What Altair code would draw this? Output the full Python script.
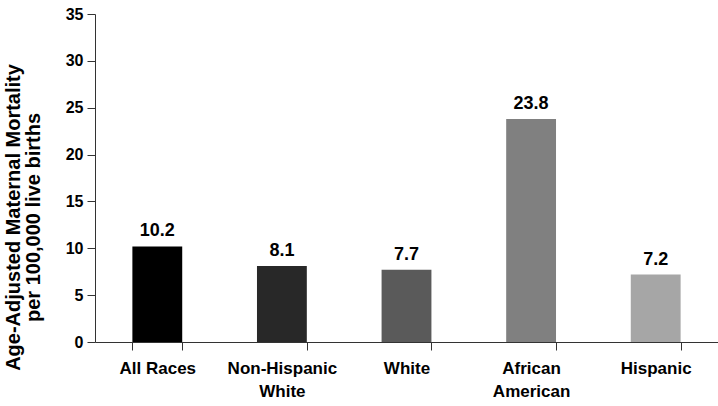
import altair as alt
import pandas as pd

# Age-adjusted maternal mortality by race/ethnicity
groups = ["All Races", "Non-Hispanic\nWhite", "White", "African\nAmerican", "Hispanic"]
rates = [10.2, 8.1, 7.7, 23.8, 7.2]
shades = ["#000000", "#282828", "#5a5a5a", "#808080", "#a6a6a6"]

df = pd.DataFrame({"group": groups, "rate": rates, "shade": shades})

FONT = "Liberation Sans"

x = alt.X(
    "group:N",
    sort=groups,
    scale=alt.Scale(paddingInner=0.6, paddingOuter=0.3),
    axis=alt.Axis(
        title=None,
        labelAngle=0,
        labelExpr="datum.value ? split(datum.value, '\\n') : ''",
        labelFont=FONT,
        labelFontSize=17,
        labelFontWeight="bold",
        labelColor="#000000",
        labelLineHeight=23,
        labelPadding=10,
        tickBand="extent",
        tickSize=8,
        tickColor="#333333",
        domainColor="#333333",
        grid=False,
    ),
)

y = alt.Y(
    "rate:Q",
    scale=alt.Scale(domain=[0, 35]),
    axis=alt.Axis(
        values=[0, 5, 10, 15, 20, 25, 30, 35],
        title=["Age-Adjusted Maternal Mortality", "per 100,000 live births"],
        titleFont=FONT,
        titleFontSize=20,
        titleFontWeight="bold",
        titleColor="#000000",
        titleAngle=-90,
        titleAlign="center",
        titleBaseline="top",
        titleLineHeight=20,
        titleX=-92,
        titleY=203,
        labelFont=FONT,
        labelFontSize=16,
        labelFontWeight="bold",
        labelColor="#000000",
        labelPadding=4,
        tickSize=8,
        tickColor="#333333",
        domainColor="#333333",
        grid=False,
    ),
)

bars = alt.Chart(df).mark_bar().encode(
    x=x,
    y=y,
    color=alt.Color("shade:N", scale=None),
)

labels = alt.Chart(df).mark_text(
    font=FONT,
    fontSize=18,
    fontWeight="bold",
    color="#000000",
    baseline="alphabetic",
    dy=-10,
).encode(
    x=alt.X("group:N", sort=groups),
    y="rate:Q",
    text=alt.Text("rate:Q", format=".1f"),
)

chart = (
    alt.layer(bars, labels)
    .properties(
        width=623,
        height=328,
        background="#ffffff",
        autosize=alt.AutoSizeParams(type="none"),
        padding={"left": 95, "top": 14, "right": 0, "bottom": 64},
    )
    .configure_view(strokeWidth=0, stroke=None)
)

chart.save("out.html", embed_options={"renderer": "svg", "actions": False})
